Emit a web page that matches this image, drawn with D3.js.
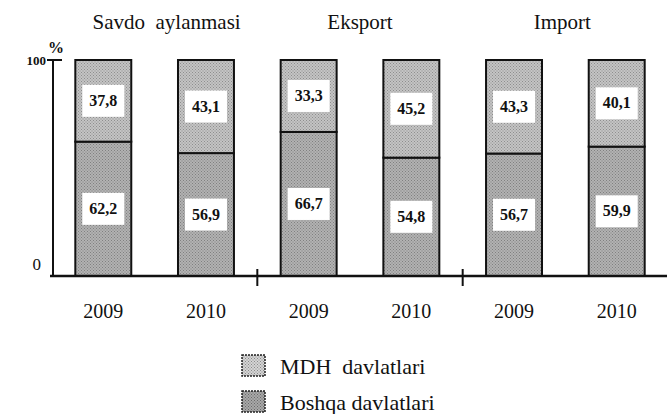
<!DOCTYPE html>
<html>
<head>
<meta charset="utf-8">
<script src="https://cdn.jsdelivr.net/npm/d3@7"></script>
<style>
  body { margin: 0; background: #fff; }
</style>
</head>
<body>
<div id="chart"></div>
<script>
// Data
const groups = ["Savdo  aylanmasi", "Eksport", "Import"];
const years = ["2009", "2010", "2009", "2010", "2009", "2010"];
const mdh = [37.8, 43.1, 33.3, 45.2, 43.3, 40.1];      // top segment
const boshqa = [62.2, 56.9, 66.7, 54.8, 56.7, 59.9];   // bottom segment
const legendLabels = ["MDH  davlatlari", "Boshqa davlatlari"];

const width = 667, height = 414;
const serif = "'Liberation Serif', 'Times New Roman', 'DejaVu Serif', serif";

const svg = d3.select("#chart")
    .append("svg")
    .attr("width", width)
    .attr("height", height)
    .attr("font-family", serif)
    .style("font-family", serif);

// Halftone-like stipple fills
const defs = svg.append("defs");
function stipple(id, base, dot) {
    const p = defs.append("pattern")
        .attr("id", id)
        .attr("width", 3).attr("height", 3)
        .attr("patternUnits", "userSpaceOnUse");
    p.append("rect").attr("width", 3).attr("height", 3).attr("fill", base);
    p.append("rect").attr("width", 1).attr("height", 1).attr("fill", dot);
    p.append("rect").attr("x", 1.5).attr("y", 1.5).attr("width", 1).attr("height", 1).attr("fill", dot);
}
stipple("mdh", "#c4c4c4", "#8e8e8e");
stipple("bsh", "#b2b2b2", "#808080");
stipple("mdhLeg", "#d4d4d4", "#8a8a8a");
stipple("bshLeg", "#a8a8a8", "#6a6a6a");

// Scales
const x = d3.scaleBand()
    .domain(d3.range(years.length))
    .range([52, 668])
    .paddingInner(0.455)
    .paddingOuter(0.227);

const y = d3.scaleLinear()
    .domain([0, 100])
    .range([276, 60]);

const fmt = v => String(v).replace(".", ",");

// Bars: bottom (Boshqa) + top (MDH)
const bars = svg.selectAll("g.bar")
    .data(years.map((yr, i) => ({ i, yr, top: mdh[i], bottom: boshqa[i] })))
    .enter()
    .append("g")
    .attr("class", "bar");

bars.append("rect")
    .attr("x", d => x(d.i))
    .attr("width", x.bandwidth())
    .attr("y", d => y(d.bottom))
    .attr("height", d => y(0) - y(d.bottom))
    .attr("fill", "url(#bsh)")
    .attr("stroke", "#111")
    .attr("stroke-width", 2);

bars.append("rect")
    .attr("x", d => x(d.i))
    .attr("width", x.bandwidth())
    .attr("y", d => y(100))
    .attr("height", d => y(d.bottom) - y(100))
    .attr("fill", "url(#mdh)")
    .attr("stroke", "#111")
    .attr("stroke-width", 2);

// Value labels in white boxes
function label(sel, yMid, accessor) {
    sel.append("rect")
        .attr("x", d => x(d.i) + x.bandwidth() / 2 - 21)
        .attr("y", d => yMid(d) - 16)
        .attr("width", 42)
        .attr("height", 32)
        .attr("fill", "#fff");
    sel.append("text")
        .attr("x", d => x(d.i) + x.bandwidth() / 2)
        .attr("y", d => yMid(d) + 5)
        .attr("text-anchor", "middle")
        .attr("font-size", 16)
        .attr("font-weight", "bold")
        .attr("fill", "#111")
        .text(d => fmt(accessor(d)));
}
label(bars, d => (y(100) + y(d.bottom)) / 2, d => d.top);
label(bars, d => (y(0) + y(d.bottom)) / 2, d => d.bottom);

// Year labels
bars.append("text")
    .attr("x", d => x(d.i) + x.bandwidth() / 2)
    .attr("y", 318)
    .attr("text-anchor", "middle")
    .attr("font-size", 20)
    .attr("fill", "#111")
    .text(d => d.yr);

// Group titles
svg.selectAll("text.group")
    .data(groups)
    .enter()
    .append("text")
    .attr("class", "group")
    .attr("x", (d, g) => (x(g * 2) + x(g * 2 + 1) + x.bandwidth()) / 2 + [12, 0, -3][g])
    .attr("y", 29)
    .attr("text-anchor", "middle")
    .attr("font-size", 21)
    .attr("fill", "#111")
    .style("white-space", "pre")
    .text(d => d);

// Axes
svg.append("line")
    .attr("x1", 53).attr("x2", 53)
    .attr("y1", y(100)).attr("y2", y(0))
    .attr("stroke", "#111").attr("stroke-width", 2);

svg.append("line")
    .attr("x1", 47).attr("x2", 62)
    .attr("y1", y(100)).attr("y2", y(100))
    .attr("stroke", "#111").attr("stroke-width", 2);

svg.append("line")
    .attr("x1", 50).attr("x2", width)
    .attr("y1", y(0)).attr("y2", y(0))
    .attr("stroke", "#111").attr("stroke-width", 2.5);

// Group separators on x axis
[2, 4].forEach(k => {
    const sx = (x(k - 1) + x.bandwidth() + x(k)) / 2;
    svg.append("line")
        .attr("x1", sx).attr("x2", sx)
        .attr("y1", y(0) - 7).attr("y2", y(0) + 10)
        .attr("stroke", "#111").attr("stroke-width", 2);
});

svg.append("text")
    .attr("x", 46).attr("y", y(100) + 5)
    .attr("text-anchor", "end")
    .attr("font-size", 13)
    .attr("font-weight", "bold")
    .attr("fill", "#111")
    .text("100");

svg.append("text")
    .attr("x", 41).attr("y", y(0) - 6)
    .attr("text-anchor", "end")
    .attr("font-size", 17)
    .attr("fill", "#111")
    .text("0");

svg.append("text")
    .attr("x", 56).attr("y", 53)
    .attr("text-anchor", "middle")
    .attr("font-size", 16)
    .attr("font-weight", "bold")
    .attr("fill", "#111")
    .text("%");

// Legend
const legend = svg.selectAll("g.legend")
    .data(legendLabels)
    .enter()
    .append("g")
    .attr("class", "legend")
    .attr("transform", (d, i) => `translate(242, ${355 + i * 36})`);

legend.append("rect")
    .attr("width", 23)
    .attr("height", 21)
    .attr("fill", (d, i) => i === 0 ? "url(#mdhLeg)" : "url(#bshLeg)")
    .attr("stroke", "#222")
    .attr("stroke-width", 1.5)
    .attr("stroke-dasharray", "2,1");

legend.append("text")
    .attr("x", 38)
    .attr("y", 19)
    .attr("font-size", 22)
    .attr("fill", "#111")
    .style("white-space", "pre")
    .text(d => d);
</script>
</body>
</html>
